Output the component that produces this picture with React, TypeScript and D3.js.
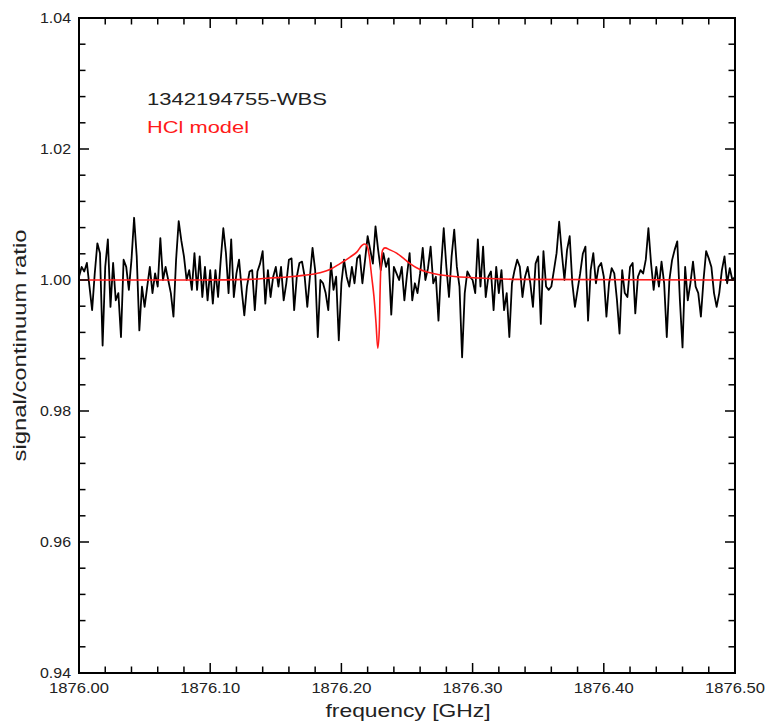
import React from "react";
import * as d3 from "d3";

// Observed spectrum: signal/continuum ratio on a regular 2 MHz channel grid
const START_GHZ = 1876.0;
const CHANNEL_GHZ = 0.002;
const observedRatio: number[] = [
  1.0005, 1.0020, 1.0013, 1.0026, 0.9990, 0.9954, 1.0010, 1.0056, 1.0041, 0.9900,
  1.0020, 1.0062, 0.9959, 1.0026, 0.9969, 0.9980, 0.9913, 1.0031, 1.0020, 0.9985,
  1.0031, 1.0095, 1.0036, 0.9923, 0.9990, 0.9959, 0.9990, 1.0020, 0.9980, 1.0010,
  0.9990, 1.0064, 1.0000, 1.0020, 1.0000, 0.9980, 0.9944, 1.0031, 1.0090, 1.0060,
  1.0036, 1.0000, 1.0015, 0.9985, 1.0041, 0.9985, 1.0036, 0.9974, 1.0020, 0.9969,
  1.0015, 0.9964, 1.0015, 0.9974, 1.0030, 1.0079, 1.0041, 0.9980, 1.0062, 0.9974,
  1.0010, 1.0031, 0.9985, 0.9946, 0.9990, 1.0013, 1.0015, 0.9954, 1.0013, 1.0025,
  1.0044, 0.9964, 1.0015, 0.9974, 1.0005, 1.0020, 0.9990, 1.0020, 0.9969, 0.9995,
  1.0031, 1.0033, 0.9954, 1.0005, 1.0026, 1.0028, 1.0005, 0.9959, 1.0005, 1.0049,
  1.0015, 0.9913, 1.0000, 0.9995, 0.9980, 0.9954, 1.0026, 0.9985, 1.0005, 0.9908,
  0.9995, 1.0031, 1.0005, 0.9990, 1.0020, 0.9995, 1.0033, 1.0038, 0.9995, 1.0030,
  1.0067, 1.0046, 1.0025, 1.0082, 1.0046, 1.0015, 1.0041, 1.0020, 1.0033, 0.9947,
  1.0020, 1.0010, 1.0000, 1.0020, 0.9969, 1.0008, 1.0041, 0.9969, 0.9995, 0.9980,
  1.0010, 1.0049, 1.0000, 1.0018, 1.0051, 0.9995, 1.0005, 0.9938, 1.0020, 1.0079,
  1.0020, 0.9974, 1.0036, 1.0077, 1.0020, 0.9990, 0.9882, 0.9980, 1.0013, 1.0005,
  1.0000, 0.9980, 1.0062, 0.9990, 1.0051, 0.9974, 1.0005, 1.0013, 0.9954, 1.0020,
  0.9980, 1.0015, 0.9954, 0.9980, 0.9913, 0.9995, 1.0015, 1.0031, 1.0020, 0.9974,
  1.0005, 1.0020, 0.9995, 0.9959, 1.0025, 1.0036, 0.9933, 1.0044, 0.9990, 0.9985,
  0.9990, 1.0015, 1.0041, 1.0089, 1.0041, 1.0000, 1.0046, 1.0067, 0.9995, 0.9959,
  0.9985, 1.0010, 1.0040, 1.0051, 0.9938, 1.0015, 1.0041, 0.9995, 1.0020, 1.0026,
  1.0005, 0.9944, 0.9995, 1.0018, 1.0010, 0.9970, 0.9918, 1.0015, 0.9980, 0.9974,
  1.0020, 1.0026, 0.9949, 1.0005, 1.0015, 1.0010, 1.0031, 1.0079, 1.0026, 0.9985,
  1.0020, 0.9990, 1.0028, 0.9995, 0.9913, 1.0000, 1.0030, 1.0046, 1.0059, 0.9969,
  0.9897, 1.0020, 0.9969, 0.9995, 1.0028, 0.9990, 0.9980, 0.9944, 1.0000, 1.0044,
  1.0033, 1.0020, 0.9980, 0.9959, 0.9980, 1.0015, 1.0036, 0.9995, 1.0018, 1.0000,
  1.0005,
];

// HCl line model
const modelFreq: number[] = [
  1876.0, 1876.0922, 1876.1303, 1876.1456, 1876.1608, 1876.1707, 1876.1837, 1876.1913,
  1876.1989, 1876.2066, 1876.2119, 1876.2157, 1876.218, 1876.2198, 1876.2213, 1876.2231,
  1876.2248, 1876.2264, 1876.2277, 1876.2289, 1876.2294, 1876.2302, 1876.2315, 1876.2332,
  1876.237, 1876.2421, 1876.2485, 1876.2523, 1876.2599, 1876.2698, 1876.2828, 1876.3056,
  1876.3361, 1876.5,
];
const modelRatio: number[] = [
  1.0, 1.0, 1.0001, 1.0003, 1.0005, 1.0007, 1.0011, 1.0016,
  1.0025, 1.0035, 1.0043, 1.0053, 1.0055, 1.0051, 1.0036, 1.0005,
  0.9975, 0.9934, 0.9896, 0.9925, 0.9975, 1.0025, 1.0046, 1.0049,
  1.0046, 1.0041, 1.0031, 1.0025, 1.0016, 1.001, 1.0006, 1.0003,
  1.0001, 1.0,
];

const xMajorTicks: number[] = [1876.0, 1876.1, 1876.2, 1876.3, 1876.4, 1876.5];
const xTickLabels: string[] = ["1876.00", "1876.10", "1876.20", "1876.30", "1876.40", "1876.50"];
const yMajorTicks: number[] = [0.94, 0.96, 0.98, 1.0, 1.02, 1.04];
const yTickLabels: string[] = ["0.94", "0.96", "0.98", "1.00", "1.02", "1.04"];
const X_MINOR_STEP = 0.02;
const Y_MINOR_STEP = 0.004;

const W = 768;
const H = 723;
const left = 79;
const right = 735;
const top = 18;
const bottom = 673;

const FONT = "'Liberation Sans', Arial, Helvetica, sans-serif";
const TEXT = "#222";

export default function App() {
  const x = d3.scaleLinear().domain([1876.0, 1876.5]).range([left, right]);
  const y = d3.scaleLinear().domain([0.94, 1.04]).range([bottom, top]);

  const observed = observedRatio.map((r, i) => [START_GHZ + i * CHANNEL_GHZ, r] as [number, number]);
  const model = modelFreq.map((f, i) => [f, modelRatio[i]] as [number, number]);

  const obsLine = d3
    .line<[number, number]>()
    .x((d) => x(d[0]))
    .y((d) => y(d[1]));
  const modelLine = d3
    .line<[number, number]>()
    .x((d) => x(d[0]))
    .y((d) => y(d[1]))
    .curve(d3.curveMonotoneX);

  const xMinor = d3.range(0, 26).map((k) => 1876.0 + k * X_MINOR_STEP);
  const yMinor = d3.range(0, 26).map((k) => 0.94 + k * Y_MINOR_STEP);
  const isMajor = (k: number) => k % 5 === 0;
  const MAJ = 10;
  const MIN = 6.5;

  return (
    <svg
      width={W}
      height={H}
      style={{ position: "absolute", left: 0, top: 0, background: "#fff" }}
      fontFamily={FONT}
    >
      <rect x={0} y={0} width={W} height={H} fill="#fff" />

      <defs>
        <clipPath id="plot-area">
          <rect x={left} y={top} width={right - left} height={bottom - top} />
        </clipPath>
      </defs>

      <g clipPath="url(#plot-area)">
        <path d={obsLine(observed) || ""} fill="none" stroke="#000" strokeWidth={1.8} strokeLinejoin="round" />
        <path d={modelLine(model) || ""} fill="none" stroke="#ff1a1a" strokeWidth={1.6} />
      </g>

      {/* frame */}
      <rect x={left} y={top} width={right - left} height={bottom - top} fill="none" stroke="#000" strokeWidth={2} />

      {/* ticks on all four sides, pointing inward */}
      <g stroke="#000" strokeWidth={1.5}>
        {xMinor.map((v, k) => {
          const len = isMajor(k) ? MAJ : MIN;
          const px = x(v);
          return (
            <g key={"xt" + k}>
              <line x1={px} x2={px} y1={bottom} y2={bottom - len} />
              <line x1={px} x2={px} y1={top} y2={top + len} />
            </g>
          );
        })}
        {yMinor.map((v, k) => {
          const len = isMajor(k) ? MAJ : MIN;
          const py = y(v);
          return (
            <g key={"yt" + k}>
              <line x1={left} x2={left + len} y1={py} y2={py} />
              <line x1={right} x2={right - len} y1={py} y2={py} />
            </g>
          );
        })}
      </g>

      {/* tick labels */}
      <g fill={TEXT} fontSize={14.5}>
        {xMajorTicks.map((v, i) => (
          <text
            key={"xl" + i}
            x={x(v)}
            y={693}
            textAnchor="middle"
            textLength={60}
            lengthAdjust="spacingAndGlyphs"
          >
            {xTickLabels[i]}
          </text>
        ))}
        {yMajorTicks.map((v, i) => (
          <text
            key={"yl" + i}
            x={71}
            y={y(v) + 5}
            textAnchor="end"
            textLength={31}
            lengthAdjust="spacingAndGlyphs"
          >
            {yTickLabels[i]}
          </text>
        ))}
      </g>

      {/* axis titles */}
      <text
        x={408}
        y={717}
        textAnchor="middle"
        fontSize={18.5}
        fill={TEXT}
        textLength={165}
        lengthAdjust="spacingAndGlyphs"
      >
        frequency [GHz]
      </text>
      <text
        transform={`translate(26, ${(top + bottom) / 2}) rotate(-90)`}
        textAnchor="middle"
        fontSize={18}
        fill={TEXT}
        textLength={232}
        lengthAdjust="spacingAndGlyphs"
      >
        signal/continuum ratio
      </text>

      {/* annotations */}
      <text x={147} y={105} fontSize={17} fill={TEXT} textLength={180} lengthAdjust="spacingAndGlyphs">
        1342194755-WBS
      </text>
      <text x={147} y={133} fontSize={17} fill="#ff1a1a" textLength={102} lengthAdjust="spacingAndGlyphs">
        HCl model
      </text>
    </svg>
  );
}
